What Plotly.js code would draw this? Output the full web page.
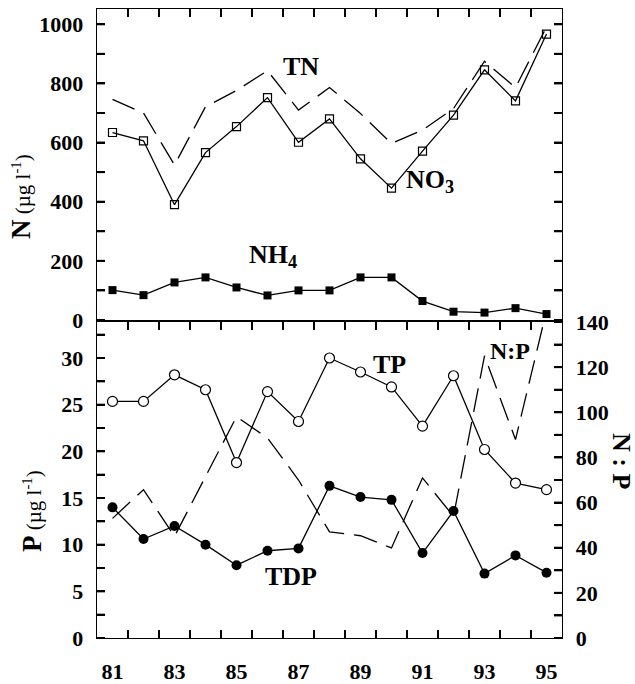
<!DOCTYPE html>
<html><head><meta charset="utf-8">
<script src="https://cdn.plot.ly/plotly-3.0.1.min.js"></script>
<style>html,body{margin:0;padding:0;background:#fff}#chart{width:635px;height:684px}</style>
</head><body><div id="chart"></div>
<script>
// Data (years 1981-1995)
const years = [81,82,83,84,85,86,87,88,89,90,91,92,93,94,95];
const yearLabels = [81,83,85,87,89,91,93,95];
const halfYears = [81.5,82.5,83.5,84.5,85.5,86.5,87.5,88.5,89.5,90.5,91.5,92.5,93.5,94.5];
// N (µg l-1)
const tn  = [746,700,524,721,776,843,710,786,698,597,642,715,875,786,991];
const no3 = [634,606,390,566,654,752,601,680,545,446,571,693,846,741,967];
const nh4 = [101,84,127,144,110,83,100,100,144,144,64,28,25,40,20];
// P (µg l-1)
const tp  = [25.35,25.35,28.2,26.6,18.8,26.4,23.2,30.0,28.5,26.9,22.7,28.1,20.2,16.6,15.9];
const tdp = [14.0,10.6,12.0,10.0,7.8,9.35,9.6,16.3,15.1,14.8,9.1,13.6,6.9,8.85,7.0];
// N:P ratio
const np  = [53,65.7,45,71.5,98,88.6,70,47,45.3,39.9,70.9,53.9,125,87.9,145];
// tick marks (major + minor)
const nTicks  = [0,100,200,300,400,500,600,700,800,900,1000];
const pTicks  = [0,2.5,5,7.5,10,12.5,15,17.5,20,22.5,25,27.5,30,32.5];
const npTicks = [0,10,20,30,40,50,60,70,80,90,100,110,120,130,140];

const XR = [80.5, 95.5];
const NR = [0, 1051.7];
const PR = [0, 33.86];
const NPR = [0, 140];

const FONT = 'Liberation Serif, Times New Roman, serif';
const LW = 1.3;
const TW = 2;
const TL = 8;
const dash = '24px,10px';

const traces = [
  {x: years, y: tn, xaxis:'x2', yaxis:'y2', mode:'lines', line:{color:'#000', width:LW, dash:dash}, name:'TN'},
  {x: years, y: no3, xaxis:'x2', yaxis:'y2', mode:'lines+markers', line:{color:'#000', width:LW},
   marker:{symbol:'square-open', size:8, color:'#000', line:{width:1.2, color:'#000'}}, name:'NO3'},
  {x: years, y: nh4, xaxis:'x2', yaxis:'y2', mode:'lines+markers', line:{color:'#000', width:LW},
   marker:{symbol:'square', size:8, color:'#000'}, name:'NH4'},
  {x: years, y: np, xaxis:'x', yaxis:'y3', mode:'lines', line:{color:'#000', width:LW, dash:dash}, name:'N:P'},
  {x: years, y: tp, xaxis:'x', yaxis:'y', mode:'lines+markers', line:{color:'#000', width:LW},
   marker:{symbol:'circle', size:10, color:'#fff', line:{width:1.2, color:'#000'}}, name:'TP'},
  {x: years, y: tdp, xaxis:'x', yaxis:'y', mode:'lines+markers', line:{color:'#000', width:LW},
   marker:{symbol:'circle', size:10, color:'#000'}, name:'TDP'}
];

// inside tick marks also drawn as pixel-sized shapes
const shapes = [];
function tl(){ return {color:'#000', width:TW}; }
halfYears.forEach(function(h){
  shapes.push({type:'line', layer:'above', xref:'x', yref:'paper', ysizemode:'pixel', yanchor:0, x0:h, x1:h, y0:0, y1:TL, line:tl()});
  shapes.push({type:'line', layer:'above', xref:'x', yref:'paper', ysizemode:'pixel', yanchor:0.5024, x0:h, x1:h, y0:0, y1:-TL, line:tl()});
  shapes.push({type:'line', layer:'above', xref:'x', yref:'paper', ysizemode:'pixel', yanchor:1, x0:h, x1:h, y0:0, y1:-TL, line:tl()});
});
nTicks.forEach(function(v){
  shapes.push({type:'line', layer:'above', xref:'paper', yref:'y2', xsizemode:'pixel', xanchor:0, x0:0, x1:TL, y0:v, y1:v, line:tl()});
  shapes.push({type:'line', layer:'above', xref:'paper', yref:'y2', xsizemode:'pixel', xanchor:1, x0:0, x1:-TL, y0:v, y1:v, line:tl()});
});
pTicks.forEach(function(v){
  shapes.push({type:'line', layer:'above', xref:'paper', yref:'y', xsizemode:'pixel', xanchor:0, x0:0, x1:TL, y0:v, y1:v, line:tl()});
});
npTicks.forEach(function(v){
  shapes.push({type:'line', layer:'above', xref:'paper', yref:'y3', xsizemode:'pixel', xanchor:1, x0:0, x1:-TL, y0:v, y1:v, line:tl()});
});

const tickfont = {family:FONT, size:22, color:'#000', weight:'bold'};
const common = {showgrid:false, zeroline:false, linecolor:'#000', linewidth:LW, tickcolor:'#000', tickwidth:TW};

const ann = function(xref, yref, x, y, text, size){
  return {xref:xref, yref:yref, x:x, y:y, text:text, showarrow:false, font:{family:FONT, size:size, color:'#000'}};
};

const layout = {
  width:635, height:684,
  margin:{l:97, r:73, t:9, b:46},
  paper_bgcolor:'#fff', plot_bgcolor:'#fff',
  showlegend:false,
  font:{family:FONT, color:'#000'},
  xaxis: Object.assign({}, common, {
    domain:[0,1], range:XR, anchor:'y', tickmode:'array', tickvals:yearLabels, ticks:'',
    showline:true, mirror:true, tickfont:tickfont, ticklabelstandoff:13
  }),
  xaxis3: Object.assign({}, common, {
    overlaying:'x', anchor:'y', range:XR, tickmode:'array', tickvals:halfYears,
    ticks:'inside', ticklen:TL, mirror:'ticks', showline:false, showticklabels:false
  }),
  xaxis2: Object.assign({}, common, {
    anchor:'y2', side:'top', range:XR, tickmode:'array', tickvals:halfYears,
    ticks:'inside', ticklen:TL, showline:true, mirror:true, showticklabels:false
  }),
  yaxis: Object.assign({}, common, {
    domain:[0,0.5024], range:PR, anchor:'x', tick0:0, dtick:5,
    ticks:'inside', ticklen:TL, showline:true, tickfont:tickfont, ticklabelstandoff:8,
    minor:{dtick:2.5, ticks:'inside', ticklen:TL, tickcolor:'#000', tickwidth:TW}
  }),
  yaxis3: Object.assign({}, common, {
    overlaying:'y', side:'right', anchor:'x', range:NPR, tick0:0, dtick:20,
    ticks:'inside', ticklen:TL, showline:true, tickfont:tickfont, ticklabelstandoff:8,
    minor:{dtick:10, ticks:'inside', ticklen:TL, tickcolor:'#000', tickwidth:TW}
  }),
  yaxis2: Object.assign({}, common, {
    domain:[0.5056,1], range:NR, anchor:'x2', tick0:0, dtick:200,
    ticks:'inside', ticklen:TL, showline:true, mirror:'ticks', tickfont:tickfont, ticklabelstandoff:8,
    minor:{dtick:100, ticks:'inside', ticklen:TL, tickcolor:'#000', tickwidth:TW}
  }),
  shapes: shapes,
  annotations: [
    ann('x2','y2', 87.08, 856, '<b>TN</b>', 26),
    ann('x2','y2', 91.25, 470, '<b>NO<sub>3</sub></b>', 26),
    ann('x2','y2', 86.18, 216, '<b>NH<sub>4</sub></b>', 26),
    ann('x','y', 89.95, 29.3, '<b>TP</b>', 26),
    ann('x','y', 86.76, 6.57, '<b>TDP</b>', 26),
    ann('x','y3', 93.82, 127, '<b>N:P</b>', 24),
    {xref:'paper', yref:'paper', x:(21-97)/465, y:(638-197)/629, xanchor:'center', yanchor:'middle', textangle:-90,
     text:'<b><span style="font-size:27px">N</span></b> (µg l<sup>-1</sup>)', showarrow:false, font:{family:FONT, size:21, color:'#000'}},
    {xref:'paper', yref:'paper', x:(32-97)/465, y:(638-511)/629, xanchor:'center', yanchor:'middle', textangle:-90,
     text:'<b><span style="font-size:27px">P</span></b> (µg l<sup>-1</sup>)', showarrow:false, font:{family:FONT, size:21, color:'#000'}},
    {xref:'paper', yref:'paper', x:(622-97)/465, y:(638-461)/629, xanchor:'center', yanchor:'middle', textangle:90,
     text:'<b>N : P</b>', showarrow:false, font:{family:FONT, size:26, color:'#000'}}
  ]
};

Plotly.newPlot('chart', traces, layout, {displayModeBar:false, staticPlot:true});
</script>
</body></html>
